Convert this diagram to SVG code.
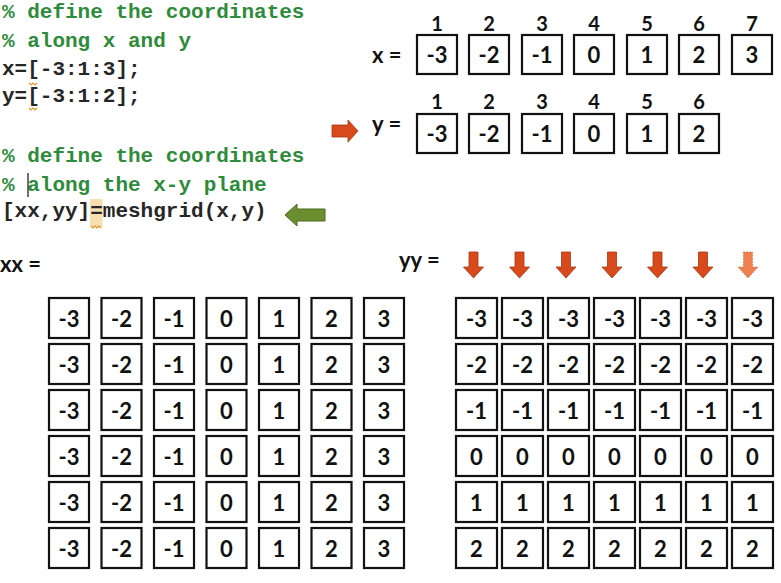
<svg xmlns="http://www.w3.org/2000/svg" xmlns:xlink="http://www.w3.org/1999/xlink" width="781" height="583" viewBox="0 0 781 583">
<style>
.code{font-family:"Liberation Mono","Courier New",monospace;font-size:21px;font-weight:bold}
.cm{fill:#2e8b3a}
.ck{fill:#262626}
.lbl{font-family:Lato,"Open Sans","Liberation Sans",sans-serif;font-size:22px;font-weight:bold;fill:#111}
.idx{font-family:Lato,"Open Sans","Liberation Sans",sans-serif;font-size:20px;font-weight:bold;fill:#111;text-anchor:middle}
.bx rect{fill:#fff;stroke:#111;stroke-width:2.2}
.bx text{font-family:Lato,"Open Sans","Liberation Sans",sans-serif;font-size:22px;font-weight:bold;fill:#111;text-anchor:middle}
.rd{fill:#d84a1b;stroke:#a8360f;stroke-width:0.8}
.rdl{fill:#ee7f4e;stroke:#d8683a;stroke-width:0.8;stroke-dasharray:1.5 1.5}
.gr{fill:#6b8e2f;stroke:#4d6a22;stroke-width:1}
.sq{fill:none;stroke:#e0962a;stroke-width:1.2}
</style>
<defs>
<path id="dn" d="M-4.5,0 H4.5 V15 H10 L0,26 L-10,15 H-4.5 Z"/>
</defs>
<rect width="781" height="583" fill="#fff"/>

<g id="code">
<rect x="90" y="199" width="12.6" height="28" fill="#f6dfb0"/>
<text class="code cm" x="2" y="18">% define the coordinates</text>
<text class="code cm" x="2" y="47">% along x and y</text>
<text class="code ck" x="2" y="75">x=[-3:1:3];</text>
<text class="code ck" x="2" y="102">y=[-3:1:2];</text>
<text class="code cm" x="2" y="162">% define the coordinates</text>
<text class="code cm" x="2" y="191">% along the x-y plane</text>
<text class="code ck" x="2" y="217">[xx,yy]=meshgrid(x,y)</text>
<path class="sq" d="M29,83 l2,2 l2,-2 l2,2 l2,-2"/>
<path class="sq" d="M29,108 l2,2 l2,-2 l2,2 l2,-2"/>
<path class="sq" d="M91,226 l2,2 l2,-2 l2,2 l2,-2 l2,2"/>
<line x1="28" y1="173" x2="28" y2="197" stroke="#333" stroke-width="1.4"/>
</g>

<g id="vec-x">
<text class="lbl" x="372" y="63">x =</text>
<g class="idx">
<text x="437" y="31">1</text><text x="489" y="31">2</text><text x="542" y="31">3</text><text x="594" y="31">4</text><text x="647" y="31">5</text><text x="699" y="31">6</text><text x="752" y="31">7</text>
</g>
<g id="x1" class="bx"><rect x="417" y="35" width="40" height="39"/><text x="437" y="63">-3</text></g>
<g id="x2" class="bx"><rect x="469" y="35" width="40" height="39"/><text x="489" y="63">-2</text></g>
<g id="x3" class="bx"><rect x="522" y="35" width="40" height="39"/><text x="542" y="63">-1</text></g>
<g id="x4" class="bx"><rect x="574" y="35" width="40" height="39"/><text x="594" y="63">0</text></g>
<g id="x5" class="bx"><rect x="627" y="35" width="40" height="39"/><text x="647" y="63">1</text></g>
<g id="x6" class="bx"><rect x="679" y="35" width="40" height="39"/><text x="699" y="63">2</text></g>
<g id="x7" class="bx"><rect x="732" y="35" width="40" height="39"/><text x="752" y="63">3</text></g>
</g>

<g id="vec-y">
<text class="lbl" x="372" y="132">y =</text>
<g class="idx">
<text x="437" y="109">1</text><text x="489" y="109">2</text><text x="542" y="109">3</text><text x="594" y="109">4</text><text x="647" y="109">5</text><text x="699" y="109">6</text>
</g>
<g id="y1" class="bx"><rect x="417" y="114" width="40" height="39"/><text x="437" y="142">-3</text></g>
<g id="y2" class="bx"><rect x="469" y="114" width="40" height="39"/><text x="489" y="142">-2</text></g>
<g id="y3" class="bx"><rect x="522" y="114" width="40" height="39"/><text x="542" y="142">-1</text></g>
<g id="y4" class="bx"><rect x="574" y="114" width="40" height="39"/><text x="594" y="142">0</text></g>
<g id="y5" class="bx"><rect x="627" y="114" width="40" height="39"/><text x="647" y="142">1</text></g>
<g id="y6" class="bx"><rect x="679" y="114" width="40" height="39"/><text x="699" y="142">2</text></g>
</g>

<g id="connectors">
<path class="rd" d="M332,125 H348 V120 L358,131 L348,142 V137 H332 Z"/>
<path class="gr" d="M285,215 L297,204 V209 H325 V221 H297 V226 Z"/>
<use href="#dn" class="rd" x="473.5" y="252"/>
<use href="#dn" class="rd" x="519.5" y="252"/>
<use href="#dn" class="rd" x="566" y="252"/>
<use href="#dn" class="rd" x="612" y="252"/>
<use href="#dn" class="rd" x="657.5" y="252"/>
<use href="#dn" class="rd" x="703" y="252"/>
<use href="#dn" class="rdl" x="748" y="252"/>
</g>

<g id="xx">
<text class="lbl" x="0" y="272">xx =</text>
<g id="xx-r1" class="bx">
<rect x="49" y="298" width="40" height="40"/><text x="69" y="327">-3</text>
<rect x="101.5" y="298" width="40" height="40"/><text x="121.5" y="327">-2</text>
<rect x="154" y="298" width="40" height="40"/><text x="174" y="327">-1</text>
<rect x="206.5" y="298" width="40" height="40"/><text x="226.5" y="327">0</text>
<rect x="259" y="298" width="40" height="40"/><text x="279" y="327">1</text>
<rect x="311.5" y="298" width="40" height="40"/><text x="331.5" y="327">2</text>
<rect x="364" y="298" width="40" height="40"/><text x="384" y="327">3</text>
</g>
<use href="#xx-r1" y="46"/>
<use href="#xx-r1" y="92"/>
<use href="#xx-r1" y="138"/>
<use href="#xx-r1" y="184"/>
<use href="#xx-r1" y="230"/>
</g>

<g id="yy">
<text class="lbl" x="399" y="268">yy =</text>
<g id="yy-r1" class="bx">
<rect x="456" y="298" width="41" height="40"/><text x="476.5" y="327">-3</text>
<rect x="502" y="298" width="41" height="40"/><text x="522.5" y="327">-3</text>
<rect x="548" y="298" width="41" height="40"/><text x="568.5" y="327">-3</text>
<rect x="594" y="298" width="41" height="40"/><text x="614.5" y="327">-3</text>
<rect x="640" y="298" width="41" height="40"/><text x="660.5" y="327">-3</text>
<rect x="686" y="298" width="41" height="40"/><text x="706.5" y="327">-3</text>
<rect x="732" y="298" width="41" height="40"/><text x="752.5" y="327">-3</text>
</g>
<g id="yy-r2" class="bx">
<rect x="456" y="344" width="41" height="40"/><text x="476.5" y="373">-2</text>
<rect x="502" y="344" width="41" height="40"/><text x="522.5" y="373">-2</text>
<rect x="548" y="344" width="41" height="40"/><text x="568.5" y="373">-2</text>
<rect x="594" y="344" width="41" height="40"/><text x="614.5" y="373">-2</text>
<rect x="640" y="344" width="41" height="40"/><text x="660.5" y="373">-2</text>
<rect x="686" y="344" width="41" height="40"/><text x="706.5" y="373">-2</text>
<rect x="732" y="344" width="41" height="40"/><text x="752.5" y="373">-2</text>
</g>
<g id="yy-r3" class="bx">
<rect x="456" y="390" width="41" height="40"/><text x="476.5" y="419">-1</text>
<rect x="502" y="390" width="41" height="40"/><text x="522.5" y="419">-1</text>
<rect x="548" y="390" width="41" height="40"/><text x="568.5" y="419">-1</text>
<rect x="594" y="390" width="41" height="40"/><text x="614.5" y="419">-1</text>
<rect x="640" y="390" width="41" height="40"/><text x="660.5" y="419">-1</text>
<rect x="686" y="390" width="41" height="40"/><text x="706.5" y="419">-1</text>
<rect x="732" y="390" width="41" height="40"/><text x="752.5" y="419">-1</text>
</g>
<g id="yy-r4" class="bx">
<rect x="456" y="436" width="41" height="40"/><text x="476.5" y="465">0</text>
<rect x="502" y="436" width="41" height="40"/><text x="522.5" y="465">0</text>
<rect x="548" y="436" width="41" height="40"/><text x="568.5" y="465">0</text>
<rect x="594" y="436" width="41" height="40"/><text x="614.5" y="465">0</text>
<rect x="640" y="436" width="41" height="40"/><text x="660.5" y="465">0</text>
<rect x="686" y="436" width="41" height="40"/><text x="706.5" y="465">0</text>
<rect x="732" y="436" width="41" height="40"/><text x="752.5" y="465">0</text>
</g>
<g id="yy-r5" class="bx">
<rect x="456" y="482" width="41" height="40"/><text x="476.5" y="511">1</text>
<rect x="502" y="482" width="41" height="40"/><text x="522.5" y="511">1</text>
<rect x="548" y="482" width="41" height="40"/><text x="568.5" y="511">1</text>
<rect x="594" y="482" width="41" height="40"/><text x="614.5" y="511">1</text>
<rect x="640" y="482" width="41" height="40"/><text x="660.5" y="511">1</text>
<rect x="686" y="482" width="41" height="40"/><text x="706.5" y="511">1</text>
<rect x="732" y="482" width="41" height="40"/><text x="752.5" y="511">1</text>
</g>
<g id="yy-r6" class="bx">
<rect x="456" y="528" width="41" height="40"/><text x="476.5" y="557">2</text>
<rect x="502" y="528" width="41" height="40"/><text x="522.5" y="557">2</text>
<rect x="548" y="528" width="41" height="40"/><text x="568.5" y="557">2</text>
<rect x="594" y="528" width="41" height="40"/><text x="614.5" y="557">2</text>
<rect x="640" y="528" width="41" height="40"/><text x="660.5" y="557">2</text>
<rect x="686" y="528" width="41" height="40"/><text x="706.5" y="557">2</text>
<rect x="732" y="528" width="41" height="40"/><text x="752.5" y="557">2</text>
</g>
</g>
</svg>
